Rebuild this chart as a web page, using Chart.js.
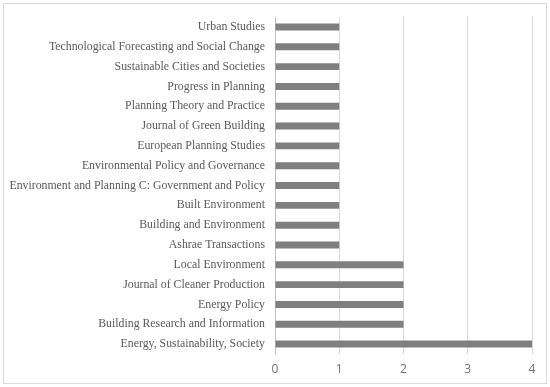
<!DOCTYPE html>
<html>
<head>
<meta charset="utf-8">
<script src="https://cdn.jsdelivr.net/npm/chart.js@4/dist/chart.umd.min.js"></script>
<style>
  html, body { margin: 0; padding: 0; background: #fff; }
  #wrap { width: 550px; height: 387px; position: relative; }
</style>
</head>
<body>
<div id="wrap"><canvas id="journalsChart"></canvas></div>
<script>
// journals, top to bottom as shown
const journals = [
  'Urban Studies',
  'Technological Forecasting and Social Change',
  'Sustainable Cities and Societies',
  'Progress in Planning',
  'Planning Theory and Practice',
  'Journal of Green Building',
  'European Planning Studies',
  'Environmental Policy and Governance',
  'Environment and Planning C: Government and Policy',
  'Built Environment',
  'Building and Environment',
  'Ashrae Transactions',
  'Local Environment',
  'Journal of Cleaner Production',
  'Energy Policy',
  'Building Research and Information',
  'Energy, Sustainability, Society'
];
const paperCounts = [1, 1, 1, 1, 1, 1, 1, 1, 1, 1, 1, 1, 2, 2, 2, 2, 4];
const xTicks = [0, 1, 2, 3, 4];

// light frame around the whole chart
const framePlugin = {
  id: 'frame',
  beforeDraw(chart) {
    const c = chart.ctx;
    c.save();
    c.strokeStyle = '#d9d9d9';
    c.lineWidth = 1;
    c.strokeRect(3.5, 3.5, 543, 380);
    c.restore();
  }
};

const ctx = document.getElementById('journalsChart').getContext('2d');
new Chart(ctx, {
  type: 'bar',
  data: {
    labels: journals,
    datasets: [{
      label: 'Papers',
      data: paperCounts,
      backgroundColor: '#7f7f7f',
      borderWidth: 0,
      categoryPercentage: 1,
      barPercentage: 0.35
    }]
  },
  options: {
    indexAxis: 'y',
    responsive: true,
    maintainAspectRatio: false,
    animation: false,
    layout: { padding: { left: 0, right: 18, top: 13, bottom: 0 } },
    plugins: {
      legend: { display: false },
      tooltip: { enabled: false }
    },
    scales: {
      x: {
        min: 0,
        max: 4,
        afterBuildTicks(axis) { axis.ticks = xTicks.map(v => ({ value: v })); },
        afterFit(axis) { axis.height = 33; },
        grid: { color: '#d9d9d9', drawTicks: false },
        border: { display: false },
        ticks: {
          padding: 8,
          color: '#6f6f6f',
          font: { family: 'Open Sans', size: 12 }
        }
      },
      y: {
        afterFit(axis) { axis.width = 275; },
        grid: { display: false, drawTicks: false },
        border: { display: true, color: '#bfbfbf' },
        ticks: {
          padding: 10,
          color: '#595959',
          font: { family: 'Liberation Serif', size: 11.8 }
        }
      }
    }
  },
  plugins: [framePlugin]
});
</script>
</body>
</html>
